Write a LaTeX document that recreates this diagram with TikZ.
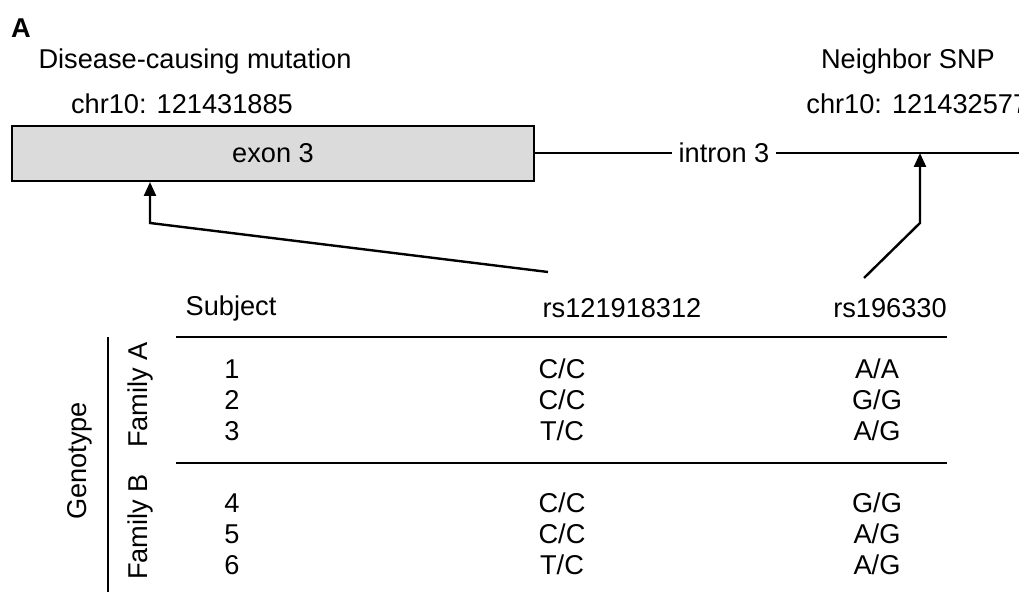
\documentclass[tikz,border=0pt]{standalone}
\usepackage{fontspec}
\setmainfont{Liberation Sans}
\usetikzlibrary{arrows.meta}

\tikzset{
    lbl/.style = {inner sep=0pt, font=\fontsize{13.6}{16}\selectfont},
    rule/.style = {line width=1pt},
    pointer/.style = {line width=1.2pt, -{Triangle[width=6pt, length=7pt]}}
}

\begin{document}
\begin{tikzpicture}[x = 0.5pt, y = -0.5pt]
            \useasboundingbox (0,0) rectangle (1019,592);
            % panel letter and titles
            \node[lbl, font=\fontsize{13.6}{16}\bfseries] (panel) at (21,28) {A};
            \node[lbl] (mutation) at (195,61) {Disease-causing mutation};
            \node[lbl] (mutpos) at (182,104) {chr10: 121431885};
            \node[lbl] (neighbor) at (908,61) {Neighbor SNP};
            \node[lbl, anchor=west] (snppos) at (806,104) {chr10: 121432577};
            % gene structure
            \node[lbl, draw, rule, fill=black!14, minimum width=261pt,
                  minimum height=27.5pt] (exon) at (273,153.5) {exon 3};
            \node[lbl] (intron) at (724,153) {intron 3};
            \coordinate (edge) at (1019,153);
            \draw[rule] (exon.east |- intron) -- ([xshift=-3pt]intron.west);
            \draw[rule] ([xshift=3pt]intron.east) -- (edge);
            % table header
            \node[lbl] (subject) at (231,308) {Subject};
            \node[lbl] (rsmut) at (622,308) {rs121918312};
            \node[lbl] (rsnb) at (890,308) {rs196330};
            % pointers to the sites
            \coordinate (m1) at (548,272);
            \coordinate (m2) at (150,223);
            \draw[pointer] (m1) -- (m2) -- (m2 |- exon.south);
            \coordinate (n1) at (864,278);
            \coordinate (n2) at (920,223);
            \draw[pointer] (n1) -- (n2) -- (n2 |- edge);
            % table rules
            \draw[rule] (176,337) coordinate (topl) -- (947,337) coordinate (topr);
            \draw[rule] (176,463) coordinate (midl) -- (947,463) coordinate (midr);
            \draw[rule] (108,337) coordinate (vtop) -- (108,592) coordinate (vbot);
            \node[lbl, rotate=90] (genotype) at (80,461) {Genotype};
            \node[lbl, rotate=90] (famA) at (140,395) {Family A};
            \node[lbl, rotate=90] (famB) at (140,527) {Family B};
            % genotypes
            \foreach \i/\y/\g/\s in {1/369/C\slash C/A\slash A, 2/400/C\slash C/G\slash G,
                                     3/431/T\slash C/A\slash G, 4/503/C\slash C/G\slash G,
                                     5/534/C\slash C/A\slash G, 6/565/T\slash C/A\slash G}{
                \node[lbl] (id\i) at (232,\y) {\i};
                \node[lbl] (gm\i) at (562,\y) {\g};
                \node[lbl] (gn\i) at (877,\y) {\s};
            }
        \end{tikzpicture}
\end{document}
